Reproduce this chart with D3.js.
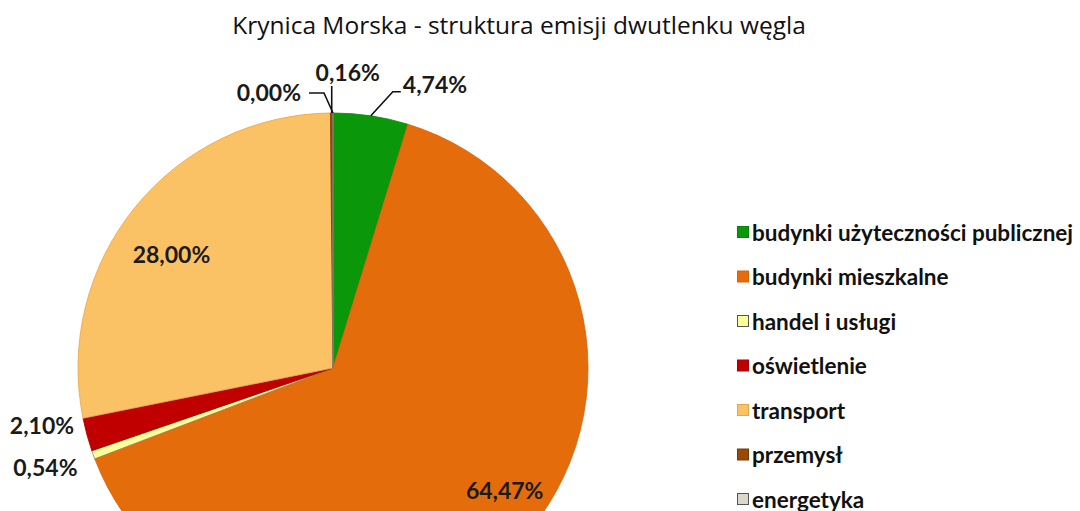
<!DOCTYPE html>
<html>
<head>
<meta charset="utf-8">
<script src="https://cdn.jsdelivr.net/npm/d3@7"></script>
<style>
  body { margin: 0; background: #fff; }
  svg { display: block; font-family: Lato, 'Open Sans', sans-serif; }
</style>
</head>
<body>
<svg id="chart" width="1080" height="511"></svg>
<script>
// data, in the clockwise order of the slices (start at 12 o'clock)
const categories = ['budynki użyteczności publicznej', 'budynki mieszkalne', 'handel i usługi',
  'oświetlenie', 'transport', 'przemysł', 'energetyka'];
const shares = [4.74, 64.47, 0.54, 2.10, 28.00, 0.16, 0.00];
const labels = ['4,74%', '64,47%', '0,54%', '2,10%', '28,00%', '0,16%', '0,00%'];
const colors = ['#0a980a', '#e46c0a', '#ffff99', '#c00000', '#fac264', '#984807', '#dcd6cc'];
const strokes = ['#0a800a', '#d86208', '#8a8a60', '#a80000', '#e8a448', '#7a3a06', '#8c8c8c'];

const title = 'Krynica Morska - struktura emisji dwutlenku węgla';

const width = 1080, height = 511;
const cx = 333, cy = 368, radius = 255;

const svg = d3.select('#chart');

svg.append('text')
  .attr('x', 519)
  .attr('y', 34)
  .attr('text-anchor', 'middle')
  .style('font-family', "'Open Sans', sans-serif")
  .style('font-size', '24.5px')
  .style('fill', '#111')
  .text(title);

const pie = d3.pie().sort(null).value(d => d)(shares);
const arc = d3.arc().innerRadius(0).outerRadius(radius);

const g = svg.append('g').attr('transform', 'translate(' + cx + ',' + cy + ')');

g.selectAll('path.slice')
  .data(pie)
  .enter()
  .append('path')
  .attr('class', 'slice')
  .attr('d', arc)
  .style('fill', (d, i) => colors[i])
  .style('stroke', (d, i) => strokes[i])
  .style('stroke-width', 0.8);

// label placement: 'in' => on a radius fraction, 'side' => beside the edge, 'out' => leader line
const labelMode = ['out', 'in', 'side', 'side', 'in', 'out', 'out'];
const labelRadius = [1, 0.82, 1, 1, 0.77, 1, 1];
// nudges like the hand-moved labels of the original
const labelShift = [[0, 0], [19, -21], [-80, 12], [-77, -10], [-9, 10], [0, 0], [0, 0]];
const leaderBend = [[22, -24], null, null, null, null, [0, -27], [-9, -20]];
const leaderTail = [[8, 0], null, null, null, null, null, [-15, 0]];

const edge = (d, f) => {
  const a = (d.startAngle + d.endAngle) / 2;
  return [Math.sin(a) * radius * f, -Math.cos(a) * radius * f];
};

pie.forEach((d, i) => {
  const lbl = g.append('text')
    .style('font-size', '23px')
    .style('font-weight', 'bold')
    .style('fill', '#1a1a1a')
    .attr('dominant-baseline', 'central')
    .text(labels[i]);

  const [ex, ey] = edge(d, labelRadius[i]);
  if (labelMode[i] === 'in') {
    lbl.attr('x', ex + labelShift[i][0]).attr('y', ey + labelShift[i][1]).attr('text-anchor', 'middle');
    return;
  }
  if (labelMode[i] === 'side') {
    lbl.attr('x', ex + labelShift[i][0]).attr('y', ey + labelShift[i][1]).attr('text-anchor', 'start');
    return;
  }
  // leader line
  const b = leaderBend[i];
  const pts = [[ex, ey], [ex + b[0], ey + b[1]]];
  const t = leaderTail[i];
  if (t) pts.push([pts[1][0] + t[0], pts[1][1] + t[1]]);
  g.append('path')
    .attr('d', d3.line()(pts))
    .style('fill', 'none')
    .style('stroke', '#111')
    .style('stroke-width', 1.6);
  const end = pts[pts.length - 1];
  if (i === 0) {
    lbl.attr('x', end[0] + 2).attr('y', end[1] - 8).attr('text-anchor', 'start');
  } else if (i === 6) {
    lbl.attr('x', end[0] - 8).attr('y', end[1] - 1).attr('text-anchor', 'end');
  } else {
    lbl.attr('x', end[0] + 16).attr('y', end[1] - 14).attr('text-anchor', 'middle');
  }
});

// legend
const legendY = d3.scalePoint().domain(categories).range([232, 499]);
const legend = svg.append('g');
const rows = legend.selectAll('g.item')
  .data(categories)
  .enter()
  .append('g')
  .attr('class', 'item')
  .attr('transform', d => 'translate(737,' + legendY(d) + ')');

rows.append('rect')
  .attr('x', 0.5)
  .attr('y', -5.5)
  .attr('width', 11)
  .attr('height', 11)
  .style('fill', (d, i) => colors[i])
  .style('stroke', (d, i) => i === 2 || i === 6 ? '#555' : strokes[i])
  .style('stroke-width', 1);

rows.append('text')
  .attr('x', 15)
  .attr('y', 0)
  .attr('dominant-baseline', 'central')
  .style('font-size', '22.5px')
  .style('font-weight', 'bold')
  .style('fill', '#111')
  .text(d => d);
</script>
</body>
</html>
